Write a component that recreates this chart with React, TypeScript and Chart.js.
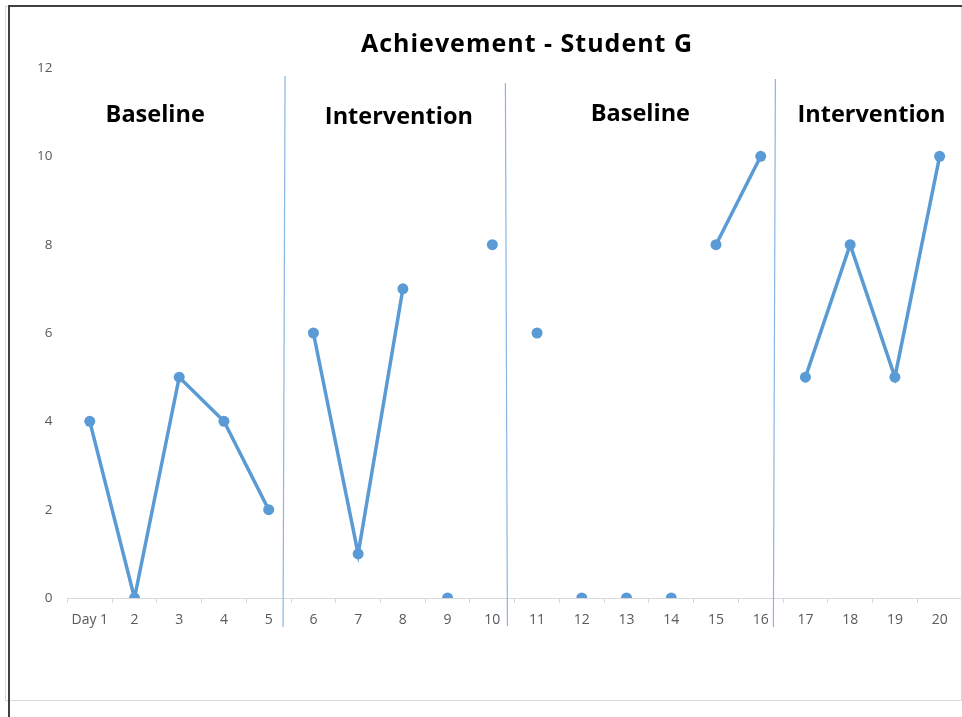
import React, { useEffect, useRef } from "react";
import { Chart, registerables } from "chart.js";

Chart.register(...registerables);

const days = ["Day 1", "2", "3", "4", "5", "6", "7", "8", "9", "10", "11", "12", "13", "14", "15", "16", "17", "18", "19", "20"];
const scores = [4, 0, 5, 4, 2, 6, 1, 7, 0, 8, 6, 0, 0, 0, 8, 10, 5, 8, 5, 10];
// day numbers after which the plotted line is not continued to the next day
const breaksAfterDay = [5, 8, 9, 10, 11, 12, 13, 14, 16];
const phaseNames = ["Baseline", "Intervention", "Baseline", "Intervention"];
// phase changes occur after these day numbers
const phaseChangesAfterDay = [5, 10, 16];
const chartTitle = "Achievement - Student G";

const BLUE = "#5B9BD5";
const PHASE_LINE = "#8AB6E4";
const GREY_TEXT = "#595959";

// drawing style (pixel offsets of the hand-drawn annotations)
const lineStyle = [
  { dxTop: -6, dxBottom: -8, top: 8, bottom: 29 },
  { dxTop: -9.3, dxBottom: -7.3, top: 15, bottom: 28 },
  { dxTop: -7.7, dxBottom: -9.7, top: 11, bottom: 29 },
];
const labelStyle = [
  { dx: -24, y: 115 },
  { dx: -4, y: 117 },
  { dx: -8.5, y: 114 },
  { dx: -1, y: 115 },
];

const annotations = {
  id: "phaseAnnotations",
  afterDraw(chart: any) {
    const { ctx, chartArea } = chart;
    const x = chart.scales.x;
    const bounds = phaseChangesAfterDay.map(
      (d) => (x.getPixelForValue(d - 1) + x.getPixelForValue(d)) / 2
    );
    ctx.save();
    // phase lines
    ctx.strokeStyle = PHASE_LINE;
    ctx.lineWidth = 1.2;
    bounds.forEach((bx, i) => {
      const s = lineStyle[i];
      ctx.beginPath();
      ctx.moveTo(bx + s.dxTop, chartArea.top + s.top);
      ctx.lineTo(bx + s.dxBottom, chartArea.bottom + s.bottom);
      ctx.stroke();
    });
    // phase labels
    const edges = [chartArea.left, ...bounds, chartArea.right];
    ctx.fillStyle = "#000";
    ctx.font = "bold 23.5px 'Open Sans'";
    ctx.textAlign = "center";
    ctx.textBaseline = "middle";
    phaseNames.forEach((name, i) => {
      const cx = (edges[i] + edges[i + 1]) / 2 + labelStyle[i].dx;
      ctx.fillText(name, cx, labelStyle[i].y);
    });
    // title
    ctx.font = "bold 25px 'Open Sans'";
    try {
      (ctx as any).letterSpacing = "1px";
    } catch (e) {}
    ctx.fillText(chartTitle, 527, 45);
    ctx.restore();
  },
};

export default function App() {
  const ref = useRef<HTMLCanvasElement>(null);
  useEffect(() => {
    if (!ref.current) return;
    const chart = new Chart(ref.current, {
      type: "line",
      data: {
        labels: days,
        datasets: [
          {
            data: scores,
            borderColor: BLUE,
            backgroundColor: BLUE,
            borderWidth: 3.5,
            pointRadius: 5.5,
            pointHoverRadius: 5.5,
            pointBorderWidth: 0,
            tension: 0,
            segment: {
              borderColor: (c: any) =>
                breaksAfterDay.includes(c.p0DataIndex + 1) ? "rgba(0,0,0,0)" : BLUE,
            },
          },
        ],
      },
      options: {
        animation: false,
        responsive: true,
        maintainAspectRatio: false,
        layout: { autoPadding: false, padding: { top: 68, left: 0, right: 0, bottom: 0 } },
        plugins: {
          legend: { display: false },
          title: { display: false },
          tooltip: { enabled: false },
        },
        scales: {
          x: {
            type: "category",
            offset: true,
            grid: {
              display: true,
              drawOnChartArea: false,
              drawTicks: true,
              tickLength: 5,
              color: "#d9d9d9",
              offset: true,
            },
            border: { display: true, color: "#d9d9d9", width: 1 },
            ticks: {
              color: GREY_TEXT,
              font: { family: "'Open Sans'", size: 14 },
              padding: 9,
              maxRotation: 0,
              autoSkip: false,
            },
            afterFit: (s: any) => {
              s.height = 119;
              s.paddingLeft = 0;
              s.paddingRight = 0;
            },
          },
          y: {
            min: 0,
            max: 12,
            ticks: {
              stepSize: 2,
              color: GREY_TEXT,
              font: { family: "'Open Sans'", size: 13.5 },
              padding: 15,
            },
            grid: { display: false, drawTicks: false },
            border: { display: false },
            afterFit: (s: any) => {
              s.width = 67.4;
            },
          },
        },
      },
      plugins: [annotations],
    });
    return () => chart.destroy();
  }, []);

  return (
    <div style={{ position: "absolute", left: 0, top: 0, width: 962, height: 717, background: "#fff" }}>
      <canvas ref={ref} />
      <div
        style={{
          position: "absolute",
          left: 5,
          top: 6,
          width: 955,
          height: 693,
          border: "1px solid #d9d9d9",
          pointerEvents: "none",
        }}
      />
      <div style={{ position: "absolute", left: 8, top: 5, width: 954, height: 2, background: "#404040" }} />
      <div style={{ position: "absolute", left: 8, top: 5, width: 2, height: 712, background: "#404040" }} />
    </div>
  );
}
